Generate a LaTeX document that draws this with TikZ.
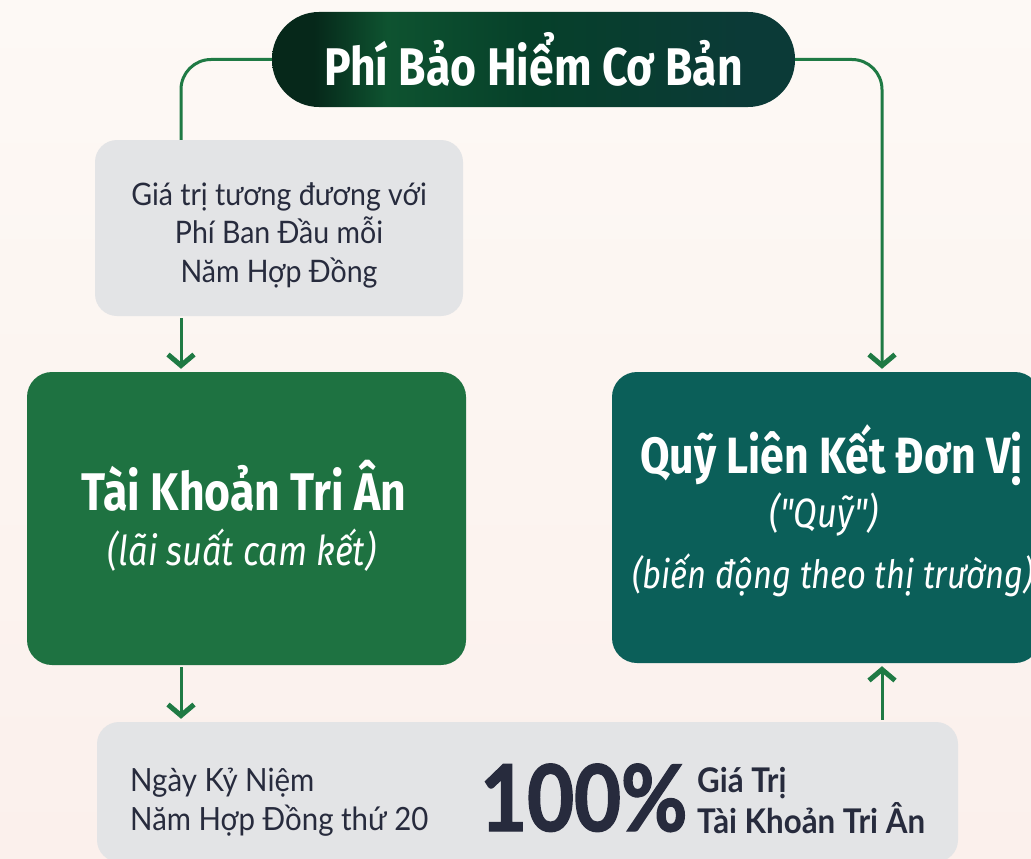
\documentclass[tikz,border=0pt]{standalone}
\usepackage{fontspec}
\usepackage{tikz}
\usetikzlibrary{
	arrows.meta,
	positioning,
	calc,
	shapes.misc
}
\setmainfont{Lato}
\newfontfamily\firacond[FakeStretch=0.84]{Fira Sans}
\newfontfamily\latocond[FakeStretch=0.92]{Lato}
\newfontfamily\latoheavy[FakeStretch=0.88, FakeBold=1.6]{Lato}

\definecolor{bgtop}{HTML}{FDF9F5}
\definecolor{bgbot}{HTML}{FBF0EC}
\definecolor{pillA}{HTML}{06281A}
\definecolor{pillB}{HTML}{0E5330}
\definecolor{pillC}{HTML}{06402A}
\definecolor{pillD}{HTML}{0B3A37}
\definecolor{linkgreen}{HTML}{1F7A44}
\definecolor{panelgrey}{HTML}{E3E4E6}
\definecolor{trigreen}{HTML}{1E7241}
\definecolor{fundteal}{HTML}{0B5F59}
\definecolor{ink}{HTML}{272B3D}

\pgfdeclarehorizontalshading{pillshade}{100bp}{color(0bp)=(pillA); color(29bp)=(pillA); color(36bp)=(pillB); color(50bp)=(pillC); color(70bp)=(pillD); color(100bp)=(pillD)}

\begin{document}
\begin{tikzpicture}[x=1pt, y=-1pt,
		link/.style={draw=linkgreen, line width=3pt},
		flow/.style={link, -{Straight Barb[length=11pt, width=26pt, line width=5pt]}, shorten >=3pt, shorten <=2pt},
		box/.style={rectangle, rounded corners=#1, inner sep=0pt},
		headtxt/.style={text=white, font=\firacond\bfseries\fontsize{#1}{#1}\selectfont, inner sep=0pt},
		subtxt/.style={text=white, font=\firacond\itshape\fontsize{#1}{#1}\selectfont, inner sep=0pt},
		inktxt/.style={text=ink, inner sep=0pt}]

		\useasboundingbox (0,0) rectangle (1031,859);
		\clip (0,0) rectangle (1031,859);
		\fill[top color=bgtop, bottom color=bgbot] (0,0) rectangle (1031,859);

		% columns of the connectors
		\coordinate (lcol) at (181, 0);
		\coordinate (rcol) at (882, 0);

		\node[box=47pt, shading=pillshade, minimum width=523pt, minimum height=95pt] (pill) at (533.5, 59.5) {};
		\node[headtxt=53] (pillT) at (pill) {Phí Bảo Hiểm Cơ Bản};

		\node[box=22pt, fill=panelgrey, minimum width=368pt, minimum height=176pt] (note) at (279, 228) {};
		\node[inktxt, align=center, font=\latocond\fontsize{31}{38.5}\selectfont] (noteT) at (279, 235) {Giá trị tương đương với\\Phí Ban Đầu mỗi\\Năm Hợp Đồng};

		\node[box=25pt, fill=trigreen, minimum width=439pt, minimum height=293pt] (trian) at (246.5, 518.5) {};
		\node[headtxt=53, anchor=base] (trianT) at (244, 510) {Tài Khoản Tri Ân};
		\node[subtxt=41, anchor=base] (trianS) at (242, 565) {(lãi suất cam kết)};

		\node[box=25pt, fill=fundteal, minimum width=428pt, minimum height=291pt] (quy) at (826, 517.5) {};
		\node[headtxt=51, anchor=base west] (quyT) at (640, 473) {Quỹ Liên Kết Đơn Vị};
		\node[subtxt=41, anchor=base] (quyQ) at (824, 527) {("Quỹ")};
		\node[subtxt=39, anchor=base west] (quyS) at (632, 588) {(biến động theo thị trường)};

		\node[box=22pt, fill=panelgrey, minimum width=861pt, minimum height=140pt] (payout) at (527.5, 792) {};
		\node[inktxt, anchor=west, align=left, font=\latocond\fontsize{32}{39}\selectfont] (payL) at (130, 802) {Ngày Kỷ Niệm\\Năm Hợp Đồng thứ 20};
		\node[inktxt, anchor=base west, font=\latoheavy\bfseries\fontsize{92}{92}\selectfont] (payP) at (480, 831) {100\%};
		\node[inktxt, anchor=west, align=left, font=\latocond\bfseries\fontsize{34}{41}\selectfont] (payR) at (697, 801) {Giá Trị\\Tài Khoản Tri Ân};

		\draw[link, rounded corners=30pt] (pill.west) -| (lcol |- note.north);
		\draw[flow, rounded corners=30pt, shorten <=0pt] (pill.east) -| (rcol |- quy.north);
		\draw[flow] (lcol |- note.south) -- (lcol |- trian.north);
		\draw[flow] (lcol |- trian.south) -- (lcol |- payout.north);
		\draw[flow] (rcol |- payout.north) -- (rcol |- quy.south);

	\end{tikzpicture}
\end{document}
